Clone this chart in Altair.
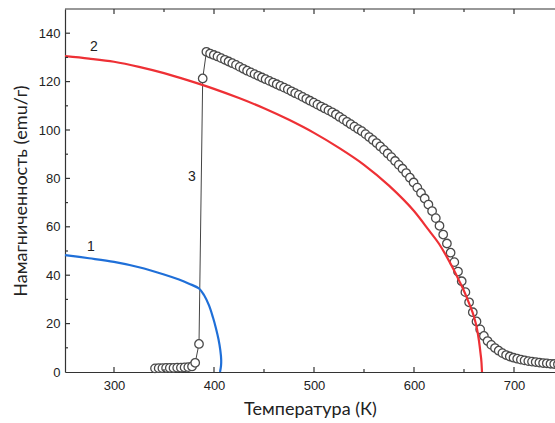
import altair as alt
import pandas as pd

# ---- data ----
# curve 1 (blue)
c1_T = [251, 275, 300, 325, 350, 365, 375, 385, 390, 395, 399, 402, 404.5, 406.3, 407.2, 407.0, 406.0]
c1_M = [48.3, 47.0, 45.5, 43.3, 40.3, 38.2, 36.5, 34.5, 31.8, 27.5, 22.5, 18.0, 13.5, 9.0, 5.0, 2.5, 0.0]

# curve 2 (red)
c2_T = [251, 275, 300, 325, 350, 375, 400, 425, 450, 475, 500, 525, 550, 575, 600, 615, 625, 632, 640, 645, 650, 655, 660, 663, 665, 666.5, 667.5, 668]
c2_M = [130.5, 129.5, 128.2, 126.1, 123.5, 120.4, 117.0, 113.2, 109.0, 104.2, 98.8, 92.6, 85.6, 77.0, 66.5, 58.5, 53.0, 48.2, 42.0, 37.8, 33.5, 28.5, 22.8, 17.8, 12.8, 7.8, 3.8, 0.0]

# measured points (curve 3)
p_T = [341.0, 344.7, 348.4, 352.1, 355.8, 359.5, 363.2, 366.9, 370.6, 374.3, 378.0, 381.2, 385.0, 388.7,
       392.4, 396.1, 399.8, 403.5, 407.2, 410.9, 414.6, 418.3, 422.0, 425.7, 429.4, 433.1, 436.8, 440.5,
       444.2, 447.9, 451.6, 455.3, 459.0, 462.7, 466.4, 470.1, 473.8, 477.5, 481.2, 484.9, 488.6, 492.3,
       496.0, 499.7, 503.4, 507.1, 510.8, 514.5, 518.2, 521.9, 525.6, 529.3, 533.0, 536.7, 540.4, 544.1,
       547.8, 551.5, 555.2, 558.9, 562.6, 566.3, 570.0, 573.7, 577.4, 581.1, 584.8, 588.5, 592.2, 595.9,
       599.6, 603.3, 607.0, 610.7, 614.4, 618.1, 621.8, 625.5, 629.2, 632.9, 636.6, 640.3, 644.0, 647.7,
       651.4, 655.1, 658.8, 662.5, 666.2, 669.9, 673.6, 677.3, 681.0, 684.7, 688.4, 692.1, 695.8, 699.5,
       703.2, 706.9, 710.6, 714.3, 718.0, 721.7, 725.4, 729.1, 732.8, 736.5, 740.2, 743.9]
p_M = [1.5, 1.6, 1.6, 1.7, 1.7, 1.7, 1.8, 1.8, 1.9, 2.0, 2.3, 3.8, 11.6, 121.3,
       132.3, 131.6, 131.0, 130.4, 129.7, 129.0, 128.3, 127.6, 126.9, 126.1, 125.3, 124.5, 123.8, 123.1,
       122.4, 121.7, 121.0, 120.3, 119.6, 118.9, 118.2, 117.5, 116.8, 116.0, 115.2, 114.5, 113.7, 112.9,
       112.1, 111.3, 110.5, 109.7, 108.9, 108.1, 107.3, 106.4, 105.4, 104.4, 103.4, 102.4, 101.4, 100.4,
       99.5, 98.3, 97.1, 95.9, 94.6, 93.2, 91.8, 90.3, 88.8, 87.2, 85.6, 84.0, 82.2, 80.3,
       78.3, 76.2, 74.0, 71.7, 69.2, 66.5, 63.6, 60.4, 56.8, 53.1, 49.3, 45.4, 41.5, 37.5,
       33.0, 28.8, 24.7, 20.9, 17.6, 14.9, 12.8, 11.2, 9.9, 8.8, 7.8, 7.0, 6.4, 5.9,
       5.5, 5.1, 4.8, 4.5, 4.3, 4.1, 3.9, 3.7, 3.6, 3.4, 3.3, 3.2]

# curve labels
lab_text = ["1", "2", "3"]
lab_T = [277, 280, 378]
lab_M = [51.5, 134.4, 80.7]

# axes
X_MIN, X_MAX = 251, 741
Y_MIN, Y_MAX = 0, 150
x_major = [300, 400, 500, 600, 700]
x_minor = [350, 450, 550, 650]
y_major = [20, 40, 60, 80, 100, 120, 140]
y_minor = [10, 30, 50, 70, 90, 110, 130]

# ---- build tables ----
c1 = pd.DataFrame({"T": c1_T, "M": c1_M, "i": range(len(c1_T))})
c2 = pd.DataFrame({"T": c2_T, "M": c2_M, "i": range(len(c2_T))})
pts = pd.DataFrame({"T": p_T, "M": p_M, "i": range(len(p_T))})
labs = pd.DataFrame({"T": lab_T, "M": lab_M, "t": lab_text})

W, H = 490, 363
px_x = (X_MAX - X_MIN) / W      # data units per pixel along x
px_y = (Y_MAX - Y_MIN) / H      # data units per pixel along y
MAJ, MIN = 5, 3                 # tick lengths in pixels

rows = []
for v in x_major + x_minor:
    L = MAJ if v in x_major else MIN
    rows.append({"x": v, "x2": v, "y": Y_MIN, "y2": Y_MIN + L * px_y})
    rows.append({"x": v, "x2": v, "y": Y_MAX, "y2": Y_MAX - L * px_y})
for v in y_major + y_minor:
    L = MAJ if v in y_major else MIN
    rows.append({"x": X_MIN, "x2": X_MIN + L * px_x, "y": v, "y2": v})
ticks = pd.DataFrame(rows)
border = pd.DataFrame({"x": [X_MIN], "x2": [X_MAX], "y": [Y_MAX], "y2": [Y_MAX]})

xs = alt.Scale(domain=[X_MIN, X_MAX], nice=False, zero=False)
ys = alt.Scale(domain=[Y_MIN, Y_MAX], nice=False, zero=False)

TITLE_FONT = "Lato"
LABEL_FONT = "Liberation Sans"

xax = alt.Axis(values=x_major, title="Температура (К)", grid=False, ticks=False, tickSize=0,
               labelFont=LABEL_FONT, labelFontSize=13, labelColor="#222", labelPadding=7,
               titleFont=TITLE_FONT, titleFontSize=18, titleFontWeight="normal", titleColor="#222",
               titlePadding=8, domainColor="#333", domainWidth=1.2, format="d")
yax = alt.Axis(values=[0] + y_major, title="Намагниченность (emu/г)", grid=False, ticks=False, tickSize=0,
               labelFont=LABEL_FONT, labelFontSize=13, labelColor="#222", labelPadding=5,
               titleFont=TITLE_FONT, titleFontSize=18, titleFontWeight="normal", titleColor="#222",
               titlePadding=8, domainColor="#333", domainWidth=1.2, format="d")

base_x = alt.X("T:Q", scale=xs, axis=xax)
base_y = alt.Y("M:Q", scale=ys, axis=yax)

conn = alt.Chart(pts).mark_line(color="#444", strokeWidth=1).encode(x=base_x, y=base_y, order="i:Q")
circles = alt.Chart(pts).mark_point(shape="circle", filled=False, fill="white", fillOpacity=1,
                                    stroke="#4a4a4a", strokeWidth=1.3, size=72, opacity=1,
                                    clip=False).encode(x=base_x, y=base_y)
red = alt.Chart(c2).mark_line(color="#ee3035", strokeWidth=2.2, interpolate="monotone").encode(
    x=base_x, y=base_y, order="i:Q")
blue = alt.Chart(c1).mark_line(color="#1f6fd8", strokeWidth=2.2, interpolate="catmull-rom").encode(
    x=base_x, y=base_y, order="i:Q")
text = alt.Chart(labs).mark_text(font=LABEL_FONT, fontSize=14, color="#222").encode(
    x=alt.X("T:Q", scale=xs), y=alt.Y("M:Q", scale=ys), text="t:N")
tick_layer = alt.Chart(ticks).mark_rule(color="#333", strokeWidth=1.2).encode(
    x=alt.X("x:Q", scale=xs), x2="x2:Q", y=alt.Y("y:Q", scale=ys), y2="y2:Q")
top = alt.Chart(border).mark_rule(color="#333", strokeWidth=1.2).encode(
    x=alt.X("x:Q", scale=xs), x2="x2:Q", y=alt.Y("y:Q", scale=ys), y2="y2:Q")

chart = alt.layer(conn, circles, red, blue, text, tick_layer, top).properties(
    width=W, height=H,
    autosize=alt.AutoSizeParams(type="none"),
    padding={"left": 65, "top": 9, "right": 0, "bottom": 51},
    background="white",
).configure_view(stroke=None)

chart.save("out.html", embed_options={"renderer": "svg", "actions": False})
